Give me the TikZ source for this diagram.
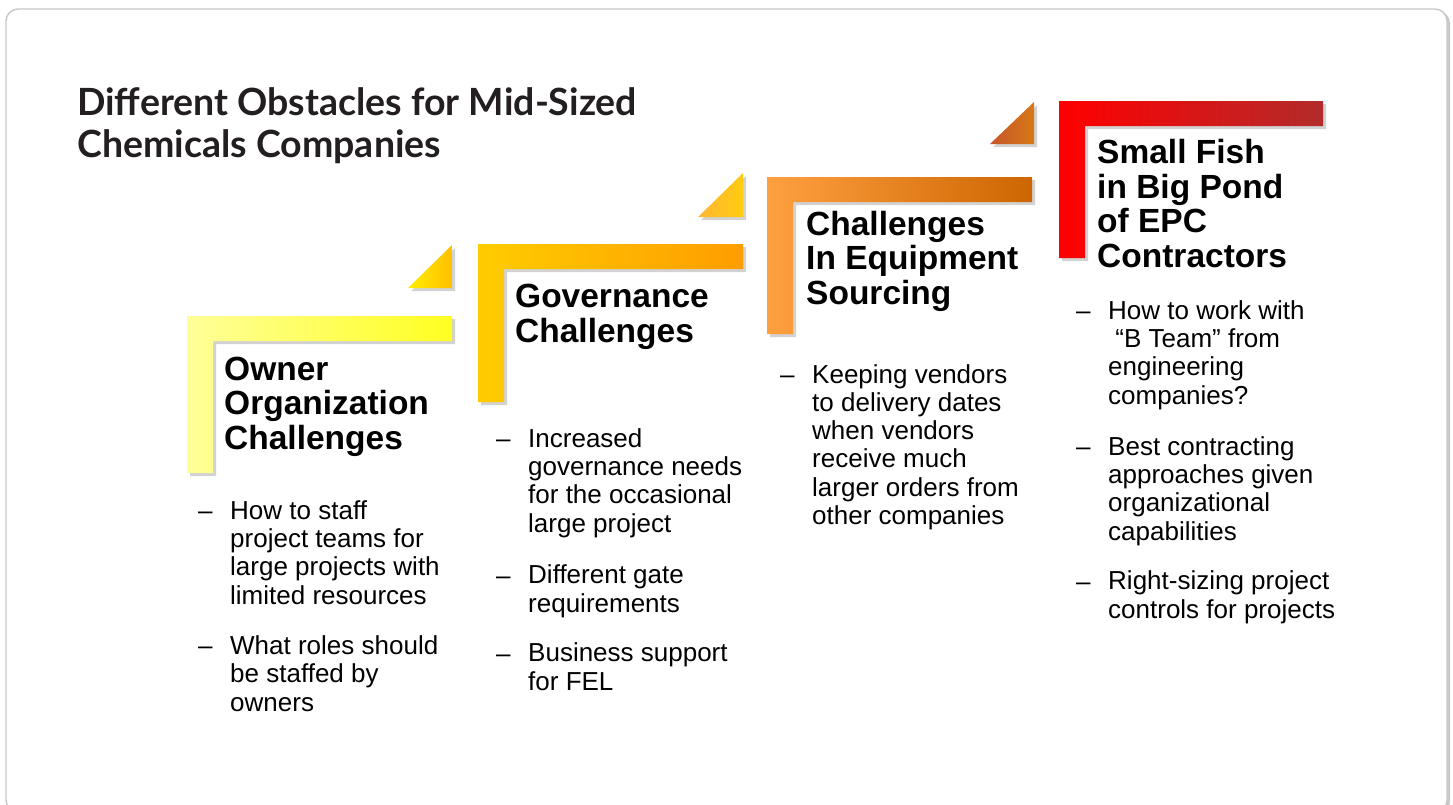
\documentclass[tikz,border=0pt]{standalone}
\usepackage{fontspec}
\setmainfont{Liberation Sans}
\newfontfamily\titlefont{Lato}
\usetikzlibrary{shadows}
\usepackage{xcolor}

\definecolor{inkblack}{HTML}{231F20}
\definecolor{frameline}{HTML}{C8C8C8}
% step colours, left to right along each bar
\definecolor{yellowA}{HTML}{FFFF99}
\definecolor{yellowB}{HTML}{FFFF22}
\definecolor{goldA}{HTML}{FFCC00}
\definecolor{goldB}{HTML}{FF9D00}
\definecolor{orangeA}{HTML}{FFA040}
\definecolor{orangeB}{HTML}{CC6600}
\definecolor{redA}{HTML}{FF0000}
\definecolor{redB}{HTML}{B22B2B}
% small corner wedges
\definecolor{wedgeAa}{HTML}{FFEE00}
\definecolor{wedgeAb}{HTML}{FFC000}
\definecolor{wedgeBa}{HTML}{FFB733}
\definecolor{wedgeBb}{HTML}{FFCC11}
\definecolor{wedgeCa}{HTML}{C4562A}
\definecolor{wedgeCb}{HTML}{D87818}

\begin{document}
\begin{tikzpicture}[x=1pt,y=-1pt]
    % multi-line nodes sit on the baseline of their last line
    \tikzset{
        shadowed/.style={drop shadow={shadow xshift=3pt,shadow yshift=-3pt,
            opacity=.25,fill=black!70}},
        head/.style={anchor=base west,inner sep=0pt,align=left,
            font=\fontsize{33.5}{34.4}\selectfont\bfseries},
        item/.style={anchor=base west,inner sep=0pt,align=left,
            font=\fontsize{26}{28.3}\selectfont},
        itemmark/.style={anchor=base west,inner sep=0pt,
            font=\fontsize{26}{28.3}\selectfont}
    }
    \useasboundingbox (0,0) rectangle (1453,804);
    \clip (0,0) rectangle (1453,804);
    % card
    \path[draw=frameline,line width=1.4pt,fill=white,rounded corners=12pt,
        drop shadow={shadow xshift=3pt,shadow yshift=-2pt,opacity=.35,fill=black!60}]
        (6,9) rectangle (1447,812);
    \node[anchor=base west,inner sep=0pt,align=left,text=inkblack,
        font=\titlefont\fontsize{37.5}{42}\selectfont\bfseries] (title) at (77,157)
        {Different Obstacles for Mid-Sized\\Chemicals Companies};
    % L-shaped steps
    \foreach \x/\y/\w/\h/\ca/\cb in {
        187/316/265/157/yellowA/yellowB,
        478/244/265/158/goldA/goldB,
        767/177/265/157/orangeA/orangeB,
        1059/101/264/157/redA/redB}
        \path[shadowed,left color=\ca,right color=\cb]
            (\x,\y) -- ++(\w,0) -- ++(0,25) -- ++(-\w+26,0)
            -- ++(0,\h-25) -- ++(-26,0) -- cycle;
    % corner wedges
    \foreach \xa/\xb/\ya/\yb/\ca/\cb in {
        408/452/245/288/wedgeAa/wedgeAb,
        698/743/173/217/wedgeBa/wedgeBb,
        990/1034/102/144/wedgeCa/wedgeCb}
        \path[shadowed,left color=\ca,right color=\cb]
            (\xa,\yb) -- (\xb,\yb) -- (\xb,\ya) -- cycle;
    % headings
    \node[head] (owner) at (224,449) {Owner\\Organization\\Challenges};
    \node[head] (governance) at (515,342) {Governance\\Challenges};
    \node[head] (equipment) at (806,304) {Challenges\\In Equipment\\Sourcing};
    \node[head] (epc) at (1097,267) {Small Fish\\in Big Pond\\of EPC\\Contractors};
    % owner items
    \node[itemmark] (ownerdash1) at (198,519) {--};
    \node[item] (owner1) at (230,604)
        {How to staff\\project teams for\\large projects with\\limited resources};
    \node[itemmark] (ownerdash2) at (198,654) {--};
    \node[item] (owner2) at (230,711) {What roles should\\be staffed by\\owners};
    % governance items
    \node[itemmark] (govdash1) at (496,447) {--};
    \node[item] (gov1) at (528,532)
        {Increased\\governance needs\\for the occasional\\large project};
    \node[itemmark] (govdash2) at (496,584) {--};
    \node[item] (gov2) at (528,612) {Different gate\\requirements};
    \node[itemmark] (govdash3) at (496,662) {--};
    \node[item] (gov3) at (528,690) {Business support\\for FEL};
    % equipment items
    \node[itemmark] (eqdash1) at (780,383) {--};
    \node[item] (eq1) at (812,524.5)
        {Keeping vendors\\to delivery dates\\when vendors\\receive much\\larger orders from\\other companies};
    % EPC items
    \node[itemmark] (epcdash1) at (1076,319) {--};
    \node[item] (epc1) at (1108,404)
        {How to work with\\\ “B Team” from\\engineering\\companies?};
    \node[itemmark] (epcdash2) at (1076,455) {--};
    \node[item] (epc2) at (1108,540)
        {Best contracting\\approaches given\\organizational\\capabilities};
    \node[itemmark] (epcdash3) at (1076,590) {--};
    \node[item] (epc3) at (1108,618) {Right-sizing project\\controls for projects};
\end{tikzpicture}
\end{document}
